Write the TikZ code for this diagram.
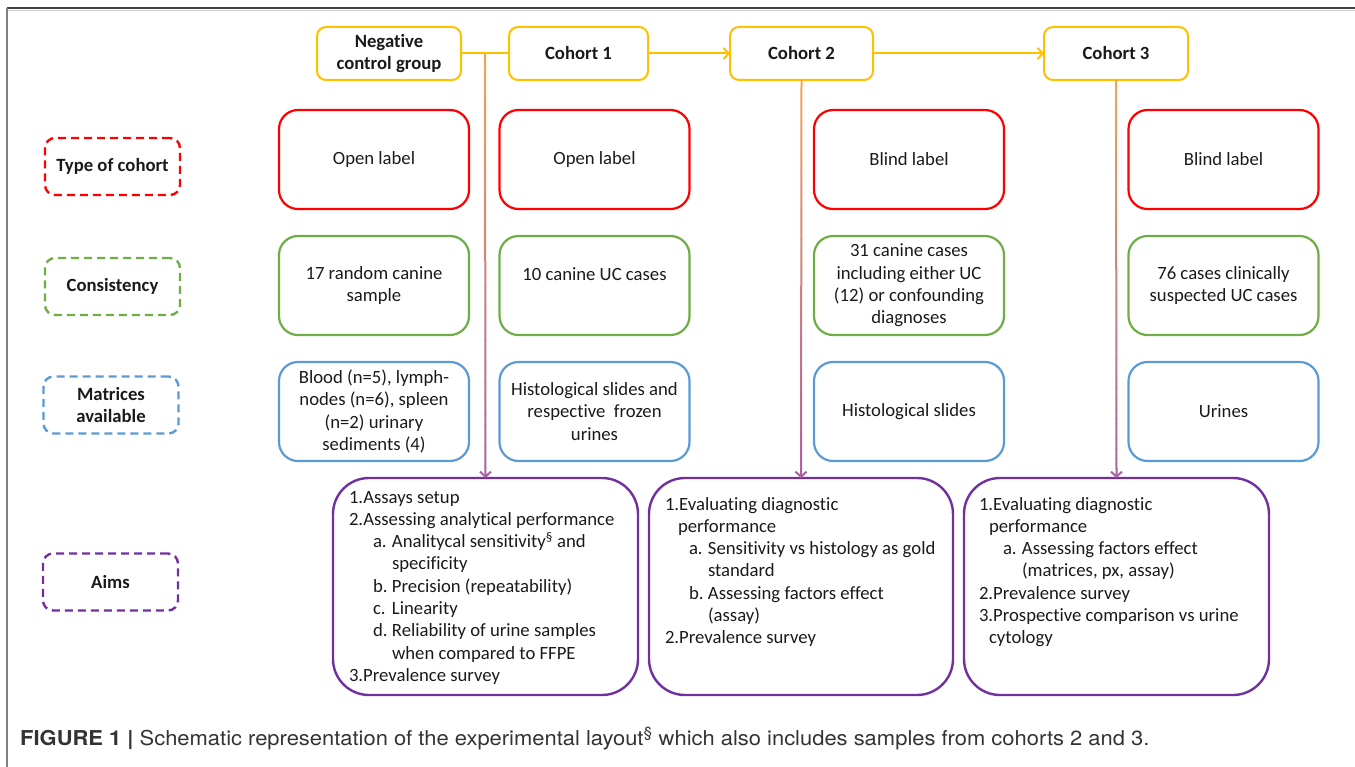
\documentclass[tikz,border=0pt]{standalone}
\usepackage{fontspec}
\setmainfont{Carlito}[Ligatures=NoCommon]
\newfontfamily\capfont{TeX Gyre Heros}
\usetikzlibrary{arrows.meta,calc}
\definecolor{cohortc}{HTML}{FFC000}
\definecolor{redc}{HTML}{FF0000}
\definecolor{greenc}{HTML}{70AD47}
\definecolor{bluec}{HTML}{5B9BD5}
\definecolor{purplec}{HTML}{7030A0}
\definecolor{contop}{HTML}{F0A45A}
\definecolor{conbot}{HTML}{A9609F}
\definecolor{txt}{HTML}{1A1A1A}
\definecolor{captxt}{HTML}{333333}
\newcommand\dfont{\fontsize{18.7}{22.3}\selectfont}
\newcommand\itm[2]{\hspace*{24pt}\makebox[19pt][l]{#1}#2}
\newcommand\cont[1]{\hspace*{43pt}#1}
\tikzset{
  cohortbox/.style={draw=cohortc, line width=2pt, rounded corners=9pt, minimum width=#1, minimum height=53pt, inner sep=0pt, outer sep=0pt, font=\bfseries\dfont, text=txt, align=center},
  rowbox/.style={draw=#1, line width=2.2pt, rounded corners=19pt, minimum width=190pt, minimum height=99pt, inner sep=0pt, outer sep=0pt, font=\dfont, text=txt, align=center},
  labbox/.style={draw=#1, line width=2.4pt, dash pattern=on 8pt off 5pt, rounded corners=10pt, minimum width=135pt, minimum height=57pt, inner sep=0pt, outer sep=0pt, font=\bfseries\dfont, text=txt, align=center},
  aimbox/.style={draw=purplec, line width=2.4pt, rounded corners=36pt, minimum width=305pt, minimum height=217pt, inner sep=0pt, outer sep=0pt},
  aimtext/.style={anchor=north west, inner sep=0pt, outer sep=0pt, font=\dfont, text=txt, align=left},
  hconn/.style={draw=cohortc, line width=2pt},
  hconnarrow/.style={hconn, -{Straight Barb[length=5pt,width=11pt]}},
}
\begin{document}
\begin{tikzpicture}[x=1pt,y=-1pt]
\useasboundingbox (0,0) rectangle (1355,767);
% frame
\draw[line width=2pt, color=black!75] (7,8) -- (1355,8);
\draw[line width=1pt, color=black!18] (7,10.5) -- (1355,10.5);
\draw[line width=2.5pt, color=black!50] (7,8) -- (7,767);

% cohort row
\node[cohortbox=144pt] (neg) at (389,53.5) {Negative\\control group};
\node[cohortbox=139pt] (c1) at (578.5,53.5) {Cohort 1};
\node[cohortbox=143pt] (c2) at (801.5,53.5) {Cohort 2};
\node[cohortbox=144pt] (c3) at (1116,53.5) {Cohort 3};

% left labels
\node[labbox=redc] (lt) at (112.5,166.5) {Type of cohort};
\node[labbox=greenc] (lc) at (112.5,286.5) {Consistency};
\node[labbox=bluec] (lm) at (111,405) {Matrices\\available};
\node[labbox=purplec] (la) at (110.5,582) {Aims};

% red row
\node[rowbox=redc] (ra) at (374,159.5) {Open label};
\node[rowbox=redc] (rb) at (594.5,159.5) {Open label};
\node[rowbox=redc] (rc) at (909,159.5) {Blind label};
\node[rowbox=redc] (rd) at (1223.5,159.5) {Blind label};
% green row
\node[rowbox=greenc] (ga) at (374,285.5) {17 random canine\\sample};
\node[rowbox=greenc] (gb) at (594.5,285.5) {10 canine UC cases\\\mbox{}};
\node[rowbox=greenc] (gc) at (909,285.5) {31 canine cases\\including either UC\\(12) or confounding\\diagnoses};
\node[rowbox=greenc] (gd) at (1223.5,285.5) {76 cases clinically\\suspected UC cases};
% blue row
\node[rowbox=bluec] (ba) at (374,411.5) {Blood (n=5), lymph-\\nodes (n=6), spleen\\(n=2) urinary\\sediments (4)};
\node[rowbox=bluec] (bb) at (594.5,411.5) {Histological slides and\\respective\ \ frozen\\urines};
\node[rowbox=bluec] (bc) at (909,411.5) {Histological slides};
\node[rowbox=bluec] (bd) at (1223.5,411.5) {Urines};

% aims boxes
\node[aimbox] (a1) at (485.5,586.5) {};
\node[aimbox, minimum width=304pt] (a2) at (801,586.5) {};
\node[aimbox] (a3) at (1116.5,586.5) {};

\node[aimtext] (a1t) at (349,488) {\rule{0pt}{15pt}1.Assays setup\\
2.Assessing analytical performance\\
\itm{a.}{Analitycal sensitivity\textsuperscript{§} and}\\
\cont{specificity}\\
\itm{b.}{Precision (repeatability)}\\
\itm{c.}{Linearity}\\
\itm{d.}{Reliability of urine samples}\\
\cont{when compared to FFPE}\\
3.Prevalence survey};

\node[aimtext] (a2t) at (665,495) {\rule{0pt}{15pt}1.Evaluating diagnostic\\
\hspace*{13pt}performance\\
\itm{a.}{Sensitivity vs histology as gold}\\
\cont{standard}\\
\itm{b.}{Assessing factors effect}\\
\cont{(assay)}\\
2.Prevalence survey};

\node[aimtext] (a3t) at (979,495) {\rule{0pt}{15pt}1.Evaluating diagnostic\\
\hspace*{10pt}performance\\
\itm{a.}{Assessing factors effect}\\
\cont{(matrices, px, assay)}\\
2.Prevalence survey\\
3.Prospective comparison vs urine\\
\hspace*{10pt}cytology};

% horizontal connectors
\coordinate (j) at ($(neg.east)!0.5!(c1.west)$);
\draw[hconn] (neg.east) -- (c1.west);
\draw[hconnarrow] (c1.east) -- (c2.west);
\draw[hconnarrow] (c2.east) -- (c3.west);

% vertical gradient connectors
\foreach \s/\e in {j/a1.north, c2.south/a2.north, c3.south/a3.north} {
  \foreach \i in {0,...,38} {
    \pgfmathsetmacro\pa{\i/40}
    \pgfmathsetmacro\pb{(\i+1.05)/40}
    \pgfmathsetmacro\pp{\i*2.5}
    \draw[line width=2pt, color=conbot!\pp!contop] ($(\s)!\pa!(\e)$) -- ($(\s)!\pb!(\e)$);
  }
  \draw[line width=2pt, color=conbot, -{Straight Barb[length=5pt,width=11pt]}] ($(\s)!0.975!(\e)$) -- (\e);
}

% caption
\node[anchor=base west, inner sep=0pt, font=\capfont\fontsize{20.5}{24}\selectfont, text=captxt] (cap) at (20,745)
  {\scalebox{1.07}[1]{\textbf{FIGURE 1 |} Schematic representation of the experimental layout\textsuperscript{§} which also includes samples from cohorts 2 and 3.}};
\end{tikzpicture}
\end{document}
